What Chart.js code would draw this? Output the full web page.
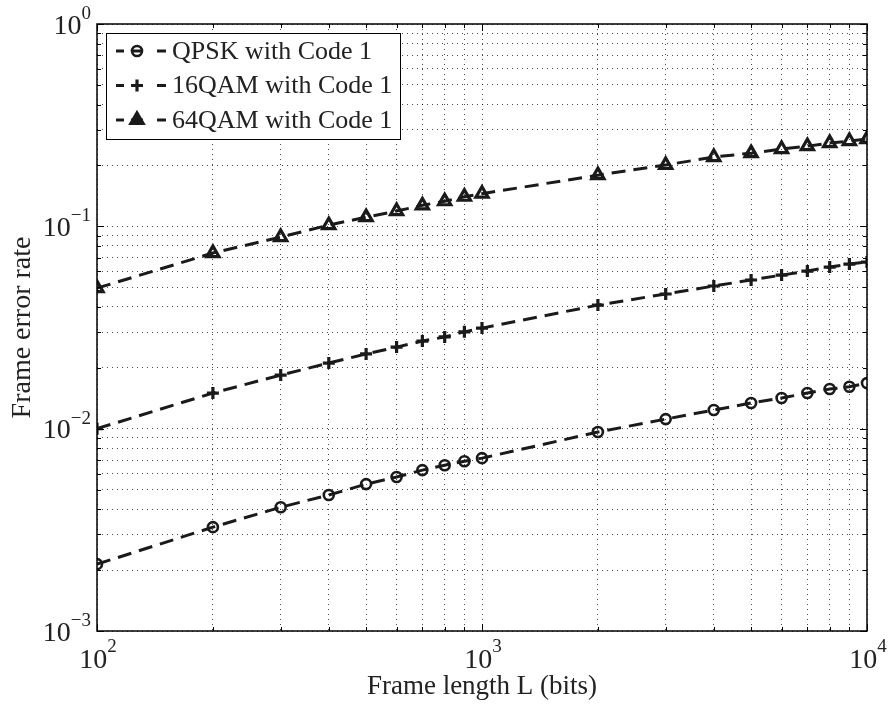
<!DOCTYPE html>
<html><head><meta charset="utf-8">
<script src="https://cdn.jsdelivr.net/npm/chart.js@4.4.0/dist/chart.umd.min.js"></script>
<style>html,body{margin:0;padding:0;background:#fff}canvas{display:block}</style>
</head><body>
<canvas id="c" width="888" height="707"></canvas>
<script>
const frameLengths = [100,200,300,400,500,600,700,800,900,1000,2000,3000,4000,5000,6000,7000,8000,9000,10000];
const qpskFER  = [0.00214,0.00326,0.00409,0.00470,0.00532,0.00577,0.00624,0.00660,0.00690,0.00715,0.00962,0.01115,0.01236,0.01339,0.01417,0.01500,0.01570,0.01610,0.01680];
const qam16FER = [0.0100,0.0150,0.0184,0.0211,0.0234,0.0253,0.0271,0.0284,0.0301,0.0314,0.0408,0.0463,0.0507,0.0543,0.0574,0.0601,0.0629,0.0651,0.0666];
const qam64FER = [0.0495,0.0738,0.0885,0.1014,0.111,0.119,0.127,0.133,0.140,0.145,0.179,0.201,0.220,0.230,0.241,0.249,0.258,0.264,0.270];
const seriesNames = ['QPSK with Code 1','16QAM with Code 1','64QAM with Code 1'];
const xTickValues = [100,1000,10000];
const xTickLabels = ['10^2','10^3','10^4'];
const yTickValues = [0.001,0.01,0.1,1];
const yTickLabels = ['10^\u22123','10^\u22122','10^\u22121','10^0'];
const xAxisTitle = 'Frame length L (bits)';
const yAxisTitle = 'Frame error rate';

const SERIF = '"Liberation Serif", "Times New Roman", serif';
const INK = '#1a1a1a';
const TXT = '#222';

function decadeTicks(min, max) {
  const out = [];
  const e0 = Math.round(Math.log10(min)), e1 = Math.round(Math.log10(max));
  for (let e = e0; e < e1; e++)
    for (let m = 1; m < 10; m++) out.push({value: parseFloat((m * Math.pow(10, e)).toPrecision(6)), major: m === 1});
  out.push({value: max, major: true});
  return out;
}
function isDecade(v, vals) {
  return vals.some(t => Math.abs(Math.log10(v) - Math.log10(t)) < 1e-6);
}
const pts = arr => frameLengths.map((x, i) => ({x: x, y: arr[i]}));

const common = {borderColor: INK, borderWidth: 3, borderDash: [14, 8], fill: false, tension: 0,
  pointBorderColor: INK, pointBackgroundColor: 'rgba(0,0,0,0)'};

const frameTicks = {
  id: 'frameTicks',
  afterDraw(chart) {
    const ctx = chart.ctx, a = chart.chartArea;
    ctx.save();
    ctx.strokeStyle = '#000';
    ctx.lineWidth = 1;
    const xs = chart.scales.x, ys = chart.scales.y;
    ctx.beginPath();
    xs.ticks.forEach(t => {
      const p = Math.round(xs.getPixelForValue(t.value)) + 0.5;
      const len = isDecade(t.value, xTickValues) ? 7 : 4;
      ctx.moveTo(p, a.bottom); ctx.lineTo(p, a.bottom - len);
      ctx.moveTo(p, a.top); ctx.lineTo(p, a.top + len);
    });
    ys.ticks.forEach(t => {
      const p = Math.round(ys.getPixelForValue(t.value)) + 0.5;
      const len = isDecade(t.value, yTickValues) ? 7 : 4;
      ctx.moveTo(a.left, p); ctx.lineTo(a.left + len, p);
      ctx.moveTo(a.right, p); ctx.lineTo(a.right - len, p);
    });
    ctx.stroke();
    ctx.lineWidth = 1.5;
    ctx.strokeRect(a.left, a.top, a.right - a.left, a.bottom - a.top);

    // decade tick labels with superscript exponents
    const baseFont = '28px ' + SERIF, expFont = '19px ' + SERIF;
    ctx.fillStyle = TXT;
    ctx.textAlign = 'left';
    ctx.textBaseline = 'alphabetic';
    xTickValues.forEach((v, i) => {
      const parts = xTickLabels[i].split('^');
      ctx.font = baseFont; const wb = ctx.measureText(parts[0]).width;
      ctx.font = expFont; const we = ctx.measureText(parts[1]).width;
      const x0 = xs.getPixelForValue(v) - (wb + we) / 2 + 1;
      ctx.font = baseFont; ctx.fillText(parts[0], x0, a.bottom + 37);
      ctx.font = expFont; ctx.fillText(parts[1], x0 + wb, a.bottom + 21);
    });
    yTickValues.forEach((v, i) => {
      const parts = yTickLabels[i].split('^');
      const py = ys.getPixelForValue(v);
      ctx.font = baseFont; const wb = ctx.measureText(parts[0]).width;
      ctx.font = expFont; const we = ctx.measureText(parts[1]).width;
      const right = a.left - 6;
      ctx.font = baseFont; ctx.fillText(parts[0], right - we - wb, py + 9.5);
      ctx.font = expFont; ctx.fillText(parts[1], right - we, py - 5);
    });
    ctx.restore();
  }
};

const boxLegend = {
  id: 'boxLegend',
  afterDraw(chart) {
    const ctx = chart.ctx, a = chart.chartArea;
    ctx.save();
    ctx.font = '26px ' + SERIF;
    const left = a.left + 9, top = a.top + 9, rowH = 34.5, textX = left + 66;
    const ds = chart.data.datasets;
    let maxW = 0;
    ds.forEach(d => { maxW = Math.max(maxW, ctx.measureText(d.label).width); });
    const w = Math.round(textX - left + maxW + 8), h = Math.round(rowH * ds.length + 2);
    ctx.fillStyle = '#fff';
    ctx.fillRect(left, top, w, h);
    ctx.strokeStyle = '#000'; ctx.lineWidth = 1;
    ctx.strokeRect(left + 0.5, top + 0.5, w, h);
    ds.forEach((d, i) => {
      const cy = top + 18 + i * rowH;
      ctx.strokeStyle = d.borderColor; ctx.lineWidth = d.borderWidth; ctx.setLineDash([]);
      ctx.beginPath();
      ctx.moveTo(left + 10, cy); ctx.lineTo(left + 18, cy);
      ctx.moveTo(left + 25, cy); ctx.lineTo(left + 37, cy);
      ctx.moveTo(left + 51, cy); ctx.lineTo(left + 60, cy);
      ctx.stroke();
      ctx.fillStyle = d.pointStyle === 'triangle' ? INK : 'rgba(0,0,0,0)';
      ctx.strokeStyle = d.pointBorderColor; ctx.lineWidth = d.pointBorderWidth;
      Chart.helpers.drawPoint(ctx, {pointStyle: d.pointStyle, rotation: 0, radius: d.pointRadius, borderWidth: d.pointBorderWidth}, left + 31, cy);
      ctx.fillStyle = TXT;
      ctx.textBaseline = 'middle'; ctx.textAlign = 'left';
      ctx.fillText(d.label, textX, cy + 1);
    });
    ctx.restore();
  }
};

new Chart(document.getElementById('c'), {
  type: 'line',
  data: {
    datasets: [
      Object.assign({}, common, {label: seriesNames[0], data: pts(qpskFER), pointStyle: 'circle', pointRadius: 5, pointBorderWidth: 2.6}),
      Object.assign({}, common, {label: seriesNames[1], data: pts(qam16FER), pointStyle: 'cross', pointRadius: 6, pointBorderWidth: 3.2}),
      Object.assign({}, common, {label: seriesNames[2], data: pts(qam64FER), pointStyle: 'triangle', pointRadius: 7, pointBorderWidth: 3.2})
    ]
  },
  options: {
    responsive: false, animation: false, devicePixelRatio: 1, events: [],
    layout: {padding: {top: 24, right: 21, left: 0, bottom: 0}},
    plugins: {legend: {display: false}, tooltip: {enabled: false}},
    scales: {
      x: {
        type: 'logarithmic', min: 100, max: 10000,
        afterBuildTicks: s => { s.ticks = decadeTicks(100, 10000); },
        afterFit: s => { s.height = 76; s.paddingLeft = 0; s.paddingRight = 0; },
        ticks: {display: false, autoSkip: false},
        grid: {color: 'rgba(0,0,0,0.7)', lineWidth: 1, drawTicks: false},
        border: {display: false, dash: [1, 4]},
        title: {display: true, text: xAxisTitle, color: TXT, font: {family: SERIF, size: 27}, padding: {top: 0, bottom: 4}}
      },
      y: {
        type: 'logarithmic', min: 0.001, max: 1,
        afterBuildTicks: s => { s.ticks = decadeTicks(0.001, 1); },
        afterFit: s => { s.width = 97; s.paddingTop = 0; s.paddingBottom = 0; },
        ticks: {display: false, autoSkip: false},
        grid: {color: 'rgba(0,0,0,0.7)', lineWidth: 1, drawTicks: false},
        border: {display: false, dash: [1, 4]},
        title: {display: true, text: yAxisTitle, color: TXT, font: {family: SERIF, size: 28}, padding: {top: 6, bottom: 0}}
      }
    }
  },
  plugins: [frameTicks, boxLegend]
});
</script>
</body></html>
